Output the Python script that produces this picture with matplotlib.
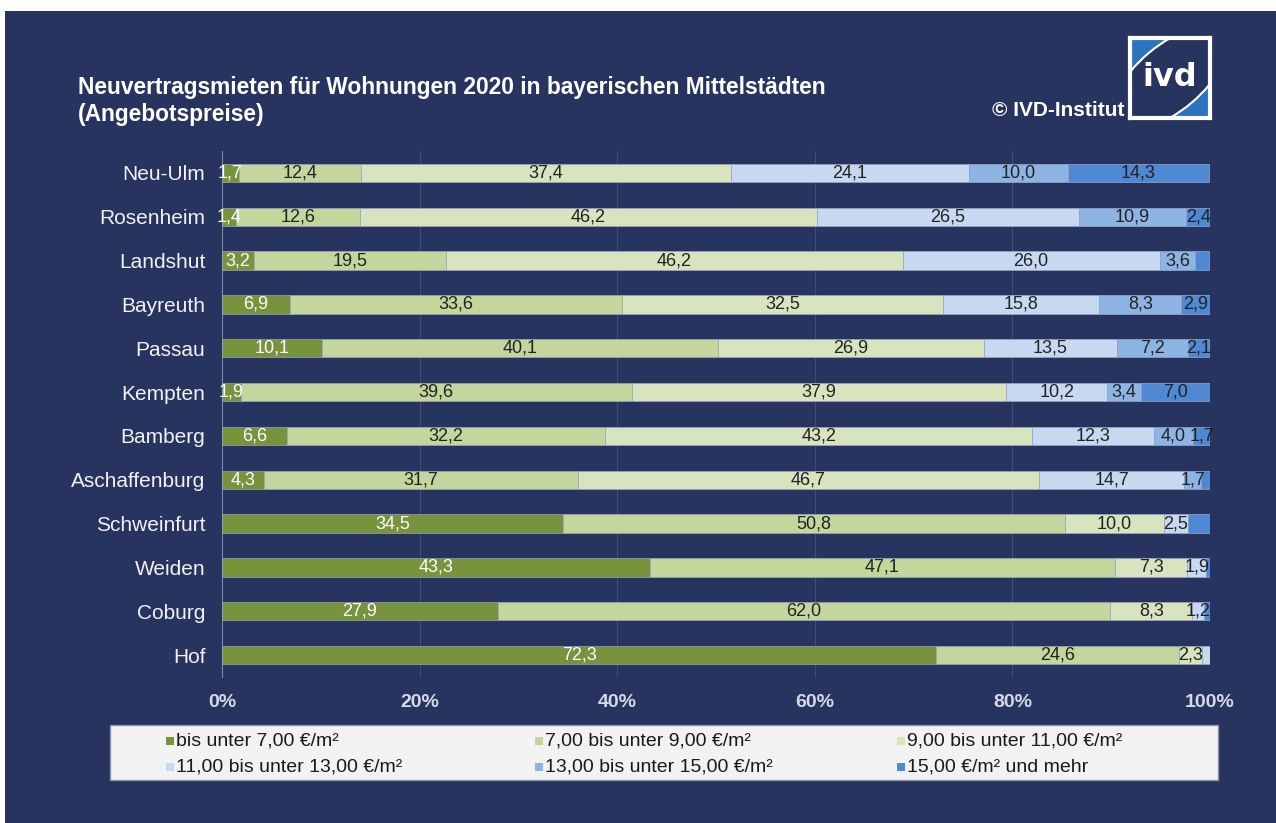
import matplotlib
matplotlib.use("Agg")
import matplotlib.pyplot as plt
from matplotlib.patches import Rectangle, Ellipse
import numpy as np

# ---------------- data ----------------
cities = ['Neu-Ulm', 'Rosenheim', 'Landshut', 'Bayreuth', 'Passau', 'Kempten',
          'Bamberg', 'Aschaffenburg', 'Schweinfurt', 'Weiden', 'Coburg', 'Hof']
s1 = [1.7, 1.4, 3.2, 6.9, 10.1, 1.9, 6.6, 4.3, 34.5, 43.3, 27.9, 72.3]
s2 = [12.4, 12.6, 19.5, 33.6, 40.1, 39.6, 32.2, 31.7, 50.8, 47.1, 62.0, 24.6]
s3 = [37.4, 46.2, 46.2, 32.5, 26.9, 37.9, 43.2, 46.7, 10.0, 7.3, 8.3, 2.3]
s4 = [24.1, 26.5, 26.0, 15.8, 13.5, 10.2, 12.3, 14.7, 2.5, 1.9, 1.2, 0.8]
s5 = [10.0, 10.9, 3.6, 8.3, 7.2, 3.4, 4.0, 1.7, 0.0, 0.0, 0.0, 0.0]
s6 = [14.3, 2.4, 1.4, 2.9, 2.1, 7.0, 1.7, 0.9, 2.2, 0.4, 0.6, 0.0]
series = [s1, s2, s3, s4, s5, s6]
series_names = ['bis unter 7,00 €/m²', '7,00 bis unter 9,00 €/m²', '9,00 bis unter 11,00 €/m²',
                '11,00 bis unter 13,00 €/m²', '13,00 bis unter 15,00 €/m²', '15,00 €/m² und mehr']
# (city index, series index) whose value label is not shown in the original
hidden_labels = {(2, 5), (7, 5), (8, 5), (9, 5), (10, 5), (11, 3)}
xticks = [0, 20, 40, 60, 80, 100]
title = 'Neuvertragsmieten für Wohnungen 2020 in bayerischen Mittelstädten\n(Angebotspreise)'

colors = ['#77933c', '#c3d69b', '#d7e4bd', '#c6d9f1', '#8eb4e3', '#4f88d3']
label_colors = ['white', '#222222', '#222222', '#222222', '#222222', '#222222']
navy = '#27345f'

W, H = 1276, 823
fig = plt.figure(figsize=(W / 100, H / 100), dpi=100)
fig.patch.set_facecolor('white')

# navy background panel
fig.patches.append(Rectangle((5 / W, 0), 1 - 5 / W, (H - 11) / H, transform=fig.transFigure,
                             facecolor=navy, edgecolor='none', zorder=-10))

regular = ['Liberation Sans', 'DejaVu Sans']

def fx(px):
    return px / W

def fy(py):
    return 1 - py / H

ax = fig.add_axes([fx(222), fy(677), fx(1210) - fx(222), fy(151) - fy(677)])
ax.set_facecolor('none')

y = np.arange(len(cities))
left = np.zeros(len(cities))
for k, vals in enumerate(series):
    vals = np.array(vals)
    ax.barh(y, vals, left=left, height=0.42, color=colors[k],
            edgecolor='#9aa6c4', linewidth=0.5, zorder=3)
    for i, v in enumerate(vals):
        if v <= 0 or (i, k) in hidden_labels:
            continue
        ax.text(left[i] + v / 2, y[i], f'{v:.1f}'.replace('.', ','),
                ha='center', va='center', fontsize=13, color=label_colors[k],
                family=regular, zorder=4)
    left = left + vals

ax.set_xlim(0, 100)
ax.set_ylim(len(cities) - 0.5, -0.5)
ax.set_yticks(y)
ax.set_yticklabels(cities, fontsize=15, color='#f2f2f2', family=regular)
ax.set_xticks(xticks)
ax.set_xticklabels([f'{t}%' for t in xticks], fontsize=14, color='#d6dae6',
                   family=regular, fontweight='bold')
ax.tick_params(axis='y', length=0, pad=12)
ax.tick_params(axis='x', length=0, pad=12)
ax.grid(axis='x', color='#3f4c7a', linewidth=0.8, zorder=0)
for s in ['top', 'right', 'bottom']:
    ax.spines[s].set_visible(False)
ax.spines['left'].set_color('#7d88a8')
ax.spines['left'].set_linewidth(0.8)

# title
fig.text(fx(78), fy(76), title, ha='left', va='top', fontsize=16.4, fontweight='bold',
         color='white', family=regular, linespacing=1.25)
fig.text(fx(1124), fy(110), '© IVD-Institut', ha='right', va='center', fontsize=15,
         fontweight='bold', color='white', family=regular)

# logo
lax = fig.add_axes([fx(1130), fy(118), fx(1210) - fx(1130), fy(38) - fy(118)])
lax.set_xlim(0, 1)
lax.set_ylim(0, 1)
lax.set_facecolor('#2c74bf')
lax.add_patch(Ellipse((0.5, 0.5), 1.75, 0.82, angle=40, facecolor=navy, edgecolor='white',
                      linewidth=1.5))
lax.text(0.5, 0.5, 'ivd', ha='center', va='center', fontsize=23, fontweight='bold',
         color='white', family=['DejaVu Sans'])
lax.set_xticks([])
lax.set_yticks([])
for s in lax.spines.values():
    s.set_color('white')
    s.set_linewidth(3)

# legend
fig.patches.append(Rectangle((fx(110), fy(780)), fx(1218) - fx(110), fy(725) - fy(780),
                             transform=fig.transFigure, facecolor='#f2f2f2',
                             edgecolor='#8a92aa', linewidth=1, zorder=1))
col_x = [166, 535, 897]
row_y = [741, 767]
for k, name in enumerate(series_names):
    r, c = divmod(k, 3)
    sq = 8
    fig.patches.append(Rectangle((fx(col_x[c]), fy(row_y[r] + sq / 2)), sq / W, sq / H,
                                 transform=fig.transFigure, facecolor=colors[k],
                                 edgecolor='none', zorder=2))
    fig.text(fx(col_x[c] + 10), fy(row_y[r]), name, ha='left', va='center', fontsize=14,
             color='#1a1a1a', family=regular, zorder=3)

fig.savefig('out.png', dpi=100, facecolor=fig.get_facecolor())
